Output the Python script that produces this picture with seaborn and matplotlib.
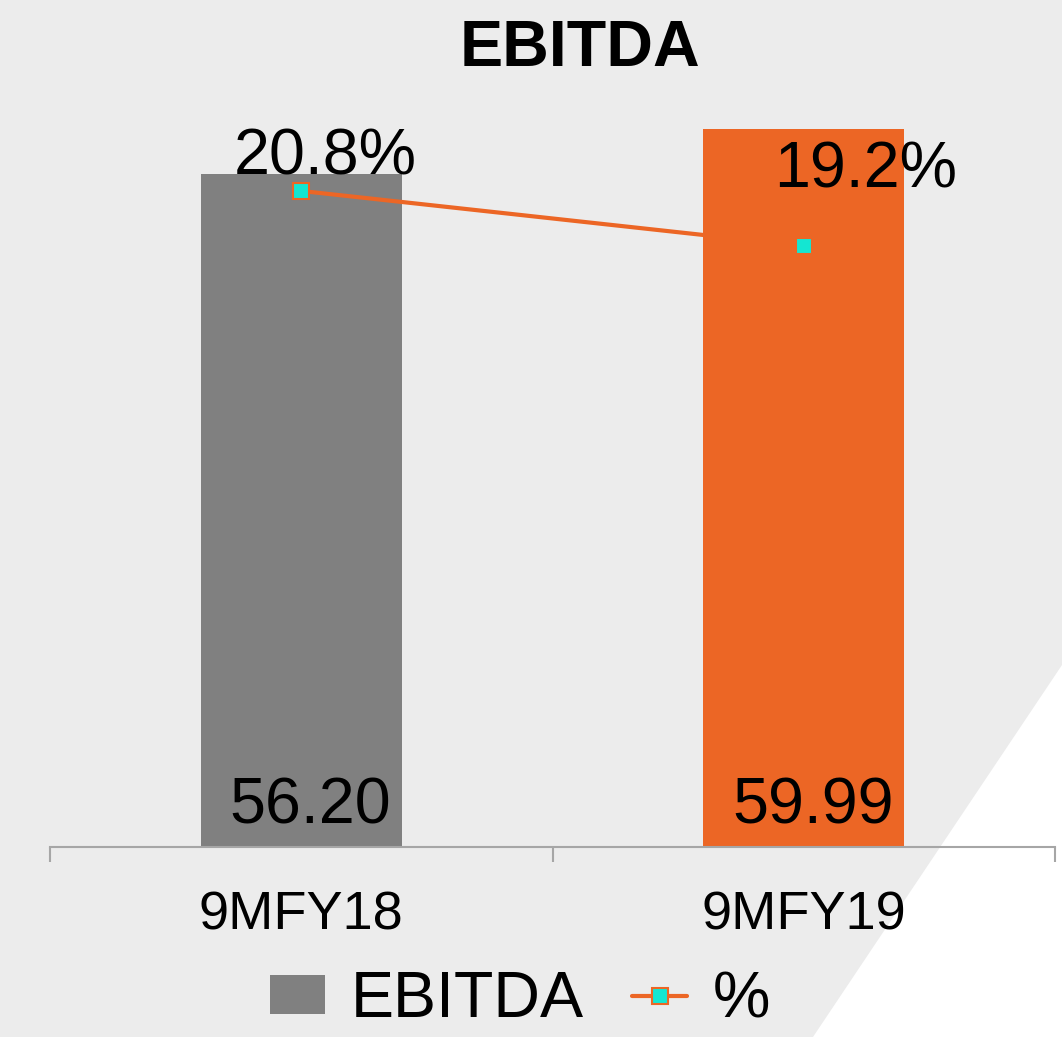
"""
EBITDA bars with margin % line on a secondary axis.
"""

import numpy as np
import pandas as pd
import matplotlib
matplotlib.use("Agg")
import matplotlib.pyplot as plt
from matplotlib.patches import Polygon, Patch
from matplotlib.lines import Line2D
import seaborn as sns

# ---------------------------------------------------------------------------
# Data
# ---------------------------------------------------------------------------
periods = ["9MFY18", "9MFY19"]
ebitda = [56.20, 59.99]
margin_pct = [20.8, 19.2]

BG = "#ececec"
BAR_COLORS = ["#808080", "#ec6625"]
LINE_COLOR = "#ec6625"
MARKER_COLOR = "#14e6d2"
AXIS_COLOR = "#a6a6a6"
BIG = 46.5

sns.set_theme(style="white")
plt.rcParams["font.family"] = ["Liberation Sans", "DejaVu Sans"]
plt.rcParams["text.color"] = "black"

fig = plt.figure(figsize=(10.62, 10.37), dpi=100, facecolor=BG)

# white diagonal cut in the lower right corner (behind everything)
fig.patches.append(Polygon([(813 / 1062, 0), (1.0, 0), (1.0, 372 / 1037)],
                           closed=True, transform=fig.transFigure,
                           facecolor="white", edgecolor="none", zorder=-5))

ax = fig.add_axes([50 / 1062, 190 / 1037, 1005 / 1062, 742 / 1037])
ax.patch.set_visible(False)

df = pd.DataFrame({"period": periods, "ebitda": ebitda})
sns.barplot(data=df, x="period", y="ebitda", hue="period",
            palette=BAR_COLORS, width=0.40, legend=False, ax=ax,
            saturation=1, edgecolor="none")

ax.set_xlim(-0.5, 1.5)
ax.set_ylim(0, 62)
ax.set_yticks([])
ax.set_xlabel("")
ax.set_ylabel("")
for side in ["top", "left", "right"]:
    ax.spines[side].set_visible(False)
ax.spines["bottom"].set_color(AXIS_COLOR)
ax.spines["bottom"].set_linewidth(1.5)
ax.tick_params(axis="x", which="major", bottom=True, length=0, pad=31,
               labelsize=39, labelcolor="black")
ax.set_xticks([-0.5, 0.5, 1.5], minor=True)
ax.tick_params(axis="x", which="minor", bottom=True, length=11, width=1.5,
               color=AXIS_COLOR, direction="out")

# value labels inside bars
for i, v in enumerate(ebitda):
    ax.annotate(f"{v:.2f}", xy=(i, 0), xytext=(9, 23),
                textcoords="offset pixels", ha="center", va="baseline",
                fontsize=BIG, color="black")

# secondary axis for margin
ax2 = ax.twinx()
ax2.patch.set_visible(False)
sns.lineplot(x=np.arange(len(periods)), y=margin_pct, ax=ax2,
             color=LINE_COLOR, linewidth=3, marker="s", markersize=12,
             markerfacecolor=MARKER_COLOR, markeredgecolor=LINE_COLOR,
             markeredgewidth=1.5)
ax2.set_ylim(1.72, 23.3)
ax2.set_yticks([])
ax2.set_ylabel("")
for side in ["top", "left", "right", "bottom"]:
    ax2.spines[side].set_visible(False)

pct_offsets = [(24, 16), (62, 58)]
for i, (v, off) in enumerate(zip(margin_pct, pct_offsets)):
    ax2.annotate(f"{v:.1f}%", xy=(i, v), xytext=off,
                 textcoords="offset pixels", ha="center", va="baseline",
                 fontsize=BIG, color="black")

fig.text(580 / 1062, (1037 - 66) / 1037, "EBITDA", ha="center",
         va="baseline", fontsize=BIG, fontweight="bold", color="black")

handles = [
    Patch(facecolor=BAR_COLORS[0], edgecolor="none"),
    Line2D([0], [0], color=LINE_COLOR, linewidth=3, marker="s",
           markersize=12, markerfacecolor=MARKER_COLOR,
           markeredgecolor=LINE_COLOR, markeredgewidth=1.5),
]
leg = fig.legend(handles, ["EBITDA", "%"], loc="center",
                 bbox_to_anchor=(520 / 1062, 37 / 1037), ncol=2,
                 frameon=False, fontsize=BIG, handlelength=0.85,
                 handleheight=0.55, columnspacing=0.75, handletextpad=0.4,
                 borderpad=0.1)
for t in leg.get_texts():
    t.set_color("black")

fig.savefig("out.png", dpi=100, facecolor=BG)
plt.close(fig)
